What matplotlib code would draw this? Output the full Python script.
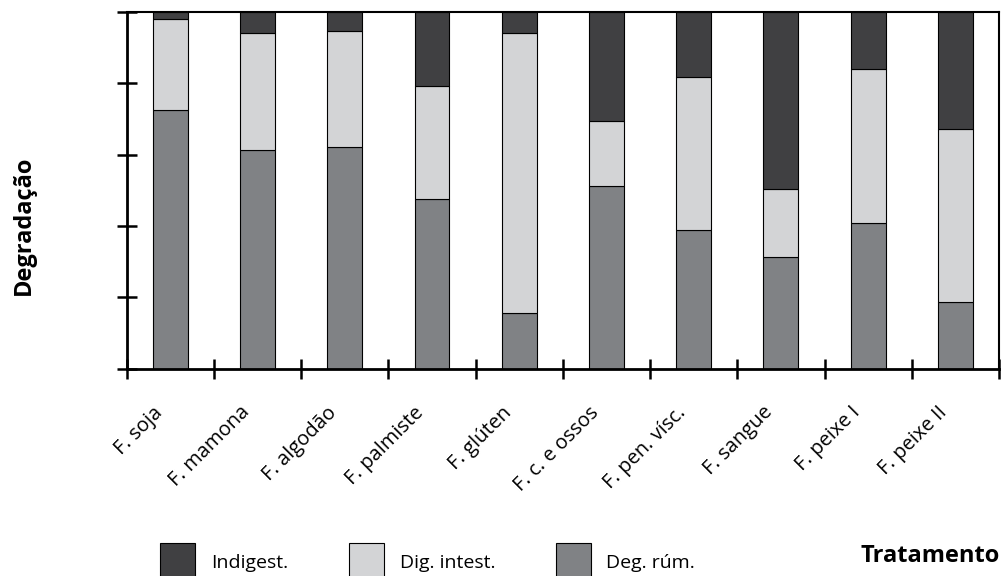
import numpy as np
import matplotlib
matplotlib.use("Agg")
import matplotlib.pyplot as plt
from matplotlib.transforms import ScaledTranslation

plt.rcParams['font.family'] = ['Open Sans', 'DejaVu Sans']

tratamentos = ["F. soja", "F. mamona", "F. algodão", "F. palmiste", "F. glúten",
               "F. c. e ossos", "F. pen. vísc.", "F. sangue", "F. peixe I", "F. peixe II"]
deg_rum = [72.5, 61.3, 62.0, 47.5, 15.6, 51.1, 38.9, 31.3, 40.8, 18.6]
dig_intest = [25.5, 32.7, 32.6, 31.7, 78.4, 18.4, 42.9, 19.1, 43.1, 48.5]
indigest = [2.0, 6.0, 5.4, 20.8, 6.0, 30.5, 18.2, 49.6, 16.1, 32.9]

fig = plt.figure(figsize=(10.03, 5.76), dpi=100)
ax = fig.add_axes([0.1263, 0.3602, 0.8697, 0.6190])

x = np.arange(len(tratamentos))
deg_rum = np.array(deg_rum)
dig_intest = np.array(dig_intest)
indigest = np.array(indigest)

w = 0.4
b1 = ax.bar(x, deg_rum, w, color="#808285", edgecolor="black", linewidth=0.8, label="Deg. rúm.")
b2 = ax.bar(x, dig_intest, w, bottom=deg_rum, color="#d3d4d6", edgecolor="black",
            linewidth=0.8, label="Dig. intest.")
b3 = ax.bar(x, indigest, w, bottom=deg_rum + dig_intest, color="#404042", edgecolor="black",
            linewidth=0.8, label="Indigest.")

ax.set_xlim(-0.5, len(tratamentos) - 0.5)
ax.set_ylim(0, 100)

for s in ax.spines.values():
    s.set_linewidth(1.5)
ax.spines['left'].set_linewidth(2)
ax.spines['bottom'].set_linewidth(2)

ax.set_yticks(np.arange(0, 101, 20))
ax.set_yticklabels([])
ax.set_xticks(np.arange(-0.5, len(tratamentos), 1.0))
ax.set_xticklabels([])
ax.tick_params(axis='both', which='major', direction='inout', length=14.4, width=1.8)
ax.set_xticks(x, minor=True)
ax.set_xticklabels(tratamentos, minor=True, rotation=45, ha='right', va='top',
                   rotation_mode='anchor', fontsize=14.5)
ax.tick_params(axis='x', which='minor', length=0, pad=24.5)
# shift the labels a bit left, like the original
for lab in ax.get_xticklabels(minor=True):
    lab.set_transform(lab.get_transform() + ScaledTranslation(-0.18, 0, fig.dpi_scale_trans))

fig.text(0.024, 0.609, "Degradação", rotation=90, ha='center', va='center',
         fontsize=17, fontweight='bold')
fig.text(0.858, 0.035, "Tratamento", ha='left', va='center', fontsize=17, fontweight='bold')

fig.legend(handles=[b3, b2, b1], labels=["Indigest.", "Dig. intest.", "Deg. rúm."],
           loc='upper left', bbox_to_anchor=(0.160, 0.0573), ncol=3, frameon=False,
           fontsize=14, borderpad=0, borderaxespad=0, handlelength=1.8, handleheight=2.7,
           handletextpad=0.82, columnspacing=3.1)

fig.savefig("out.png", dpi=100)
